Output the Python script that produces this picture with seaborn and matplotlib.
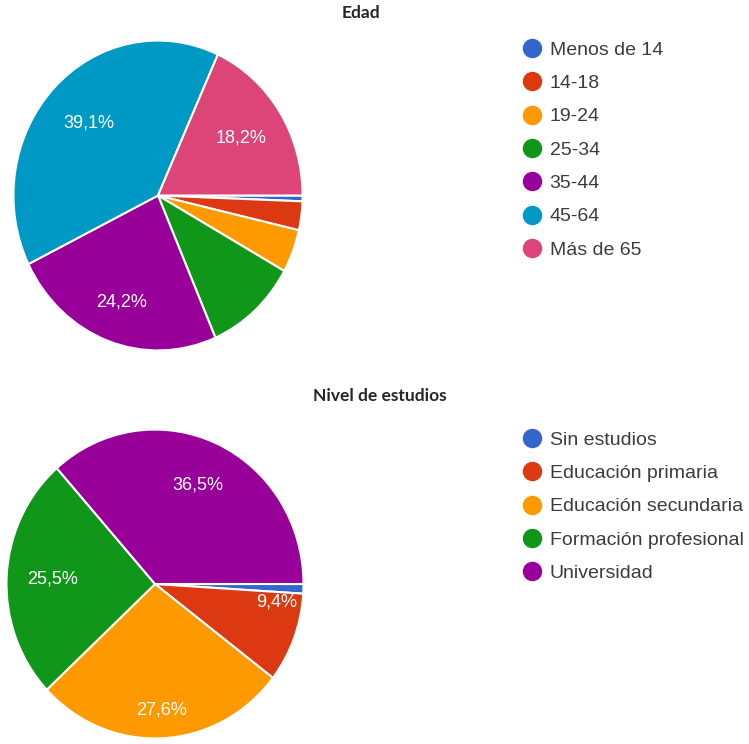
"""Two Google-Forms style pie charts: age and education level."""
import matplotlib
matplotlib.use("Agg")
import matplotlib.pyplot as plt
from matplotlib.lines import Line2D
import numpy as np
import seaborn as sns

# --- data -------------------------------------------------------------------
edad_labels = ["Menos de 14", "14-18", "19-24", "25-34", "35-44", "45-64", "Más de 65"]
edad_values = [0.6, 3.0, 4.5, 10.4, 24.2, 39.1, 18.2]
edad_show = [False, False, False, False, True, True, True]

estudios_labels = ["Sin estudios", "Educación primaria", "Educación secundaria",
                   "Formación profesional", "Universidad"]
estudios_values = [1.0, 9.4, 27.6, 25.5, 36.5]
estudios_show = [False, True, True, True, True]

google_colors = ["#3366cc", "#dc3912", "#ff9900", "#109618", "#990099", "#0099c6", "#dd4477"]

# label placement (fraction of radius, angular nudge in degrees)
edad_pct_dist = [0.7, 0.7, 0.7, 0.7, 0.73, 0.67, 0.68]
edad_pct_shift = [0, 0, 0, 0, 0, 0, 0]
estudios_pct_dist = [0.7, 0.83, 0.82, 0.69, 0.70]
estudios_pct_shift = [0, 12.5, 0, 0, 0]

sns.set_theme(style="white")
plt.rcParams["font.family"] = ["Liberation Sans", "DejaVu Sans"]
palette = sns.color_palette(google_colors)

W, H = 749, 744
fig = plt.figure(figsize=(W / 100, H / 100), dpi=100)


def _px_axes(left, top, right, bottom):
    """Axes placed by pixel box (origin top-left)."""
    return fig.add_axes([left / W, 1 - bottom / H, (right - left) / W, (bottom - top) / H])


def _pie(ax, values, show, dists, shifts):
    it = iter(show)

    def fmt(p):
        return (f"{p:.1f}".replace(".", ",") + "%") if next(it) else ""

    wedges, _, autotexts = ax.pie(
        values, colors=palette[:len(values)], startangle=0, counterclock=False,
        autopct=fmt, pctdistance=0.7, radius=1,
        wedgeprops={"edgecolor": "white", "linewidth": 1.5},
        textprops={"color": "white", "fontsize": 13})
    for w, t, d, s in zip(wedges, autotexts, dists, shifts):
        ang = np.deg2rad((w.theta1 + w.theta2) / 2 + s)
        t.set_position((d * np.cos(ang), d * np.sin(ang)))
    ax.set_aspect("auto")
    ax.set_xlim(-1.01, 1.01)
    ax.set_ylim(-1.01, 1.01)
    ax.axis("off")


def _legend(labels, x, y):
    handles = [Line2D([], [], marker="o", linestyle="", markersize=13,
                      markerfacecolor=c, markeredgecolor=c) for c in palette[:len(labels)]]
    fig.legend(handles, labels, loc="upper left", bbox_to_anchor=(x / W, 1 - y / H),
               frameon=False, fontsize=14, labelcolor="#3c3c3c",
               handlelength=0.9, handletextpad=0.47, labelspacing=0.81,
               borderpad=0, borderaxespad=0)


ax1 = _px_axes(12, 39, 304, 352)
_pie(ax1, edad_values, edad_show, edad_pct_dist, edad_pct_shift)
ax2 = _px_axes(5, 428, 305, 740)
_pie(ax2, estudios_values, estudios_show, estudios_pct_dist, estudios_pct_shift)

fig.text(0.482, 1 - 13 / H, "Edad", ha="center", va="center",
         fontsize=12.5, fontweight="bold", family="Lato")
fig.text(0.507, 1 - 396 / H, "Nivel de estudios", ha="center", va="center",
         fontsize=12.5, fontweight="bold", family="Lato")

_legend(edad_labels, 523, 41)
_legend(estudios_labels, 523, 431)

fig.savefig("out.png", dpi=100)
